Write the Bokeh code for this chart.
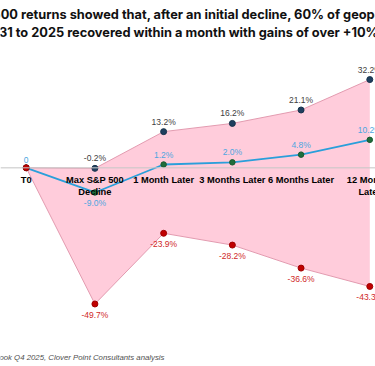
from bokeh.plotting import figure
from bokeh.models import ColumnDataSource, Range1d, Span, Label
from bokeh.core.properties import value
from bokeh.embed import file_html
from bokeh.resources import INLINE

categories = ["T0", "Max S&P 500\nDecline", "1 Month Later", "3 Months Later", "6 Months Later", "12 Months\nLater"]
upper = [0, -0.2, 13.2, 16.2, 21.1, 32.2]
median = [0, -9.0, 1.2, 2.0, 4.8, 10.2]
lower = [0, -49.7, -23.9, -28.2, -36.6, -43.3]
title_lines = [
    "Historical S&P 500 returns showed that, after an initial decline, 60% of geopolitical events from",
    "1931 to 2025 recovered within a month with gains of over +10%.",
]
source_note = "Source: Market Outlook Q4 2025, Clover Point Consultants analysis"

xs = list(range(len(categories)))

W, H = 375, 366
p = figure(width=W, height=H, output_backend="svg", toolbar_location=None,
           x_range=Range1d(-0.374, 5.083), y_range=Range1d(-72.52, 61.06),
           min_border=0, min_border_left=0, min_border_right=0,
           min_border_top=0, min_border_bottom=0)
p.axis.visible = False
p.grid.visible = False
p.outline_line_color = None
p.background_fill_color = "white"

src = ColumnDataSource(dict(x=xs, cat=categories, up=upper, med=median, lo=lower,
                            up_lbl=[""] + [f"{v:.1f}%" for v in upper[1:]],
                            lo_lbl=[""] + [f"{v:.1f}%" for v in lower[1:]],
                            zero=[0] * len(xs)))

# band
p.varea(x="x", y1="lo", y2="up", source=src, fill_color="#FFCCDB", fill_alpha=1.0)
p.line(x="x", y="up", source=src, line_color="#E39BB0", line_width=1)
p.line(x="x", y="lo", source=src, line_color="#E39BB0", line_width=1)

p.add_layout(Span(location=0, dimension="width", line_color="#C8C8C8", line_width=1.5, line_alpha=0.7))

# median line
p.line(x="x", y="med", source=src, line_color="#2A9FDA", line_width=1.8)

p.scatter(x="x", y="up", source=src, size=6, fill_color="#1F3F5F", line_color="#17324C")
p.scatter(x="x", y="med", source=src, size=5.5, fill_color="#1E6E3C", line_color="#185A30")
p.scatter(x="x", y="lo", source=src, size=6, fill_color="#C00000", line_color="#A00000")

lbl_font = value("Liberation Sans")
p.text(x="x", y="up", text="up_lbl", source=src, text_font=lbl_font, text_font_size="8.5px",
       text_color="#404040", text_align="center", text_baseline="bottom", y_offset=-5)
p.text(x="x", y="lo", text="lo_lbl", source=src, text_font=lbl_font, text_font_size="8.5px",
       text_color="#D02828", text_align="center", text_baseline="top", y_offset=6)

med_lbl = ["0"] + [f"{v:.1f}%" for v in median[1:]]
above_idx = [i for i in xs if median[i] >= 0]
below_idx = [i for i in xs if median[i] < 0]
med_above = ColumnDataSource(dict(x=[xs[i] for i in above_idx], y=[median[i] for i in above_idx],
                                  t=[med_lbl[i] for i in above_idx]))
med_below = ColumnDataSource(dict(x=[xs[i] for i in below_idx], y=[median[i] for i in below_idx],
                                  t=[med_lbl[i] for i in below_idx]))
p.text(x="x", y="y", text="t", source=med_above, text_font=lbl_font, text_font_size="8.5px",
       text_color="#4DA6E0", text_align="center", text_baseline="bottom", y_offset=-5)
p.text(x="x", y="y", text="t", source=med_below, text_font=lbl_font, text_font_size="8.5px",
       text_color="#4DA6E0", text_align="center", text_baseline="top", y_offset=6)

# category labels at zero line
p.text(x="x", y="zero", text="cat", source=src, text_font=value("Liberation Sans"), text_font_size="9.3px",
       text_font_style="bold", text_color="#000000", text_align="center", text_baseline="top",
       y_offset=7, text_line_height=1.25)

# title
title_x = [W / 2 + 10, W / 2 - 4]
for i, t in enumerate(title_lines):
    p.add_layout(Label(x=title_x[i], y=H - 6 - 18 * i, x_units="screen", y_units="screen", text=t,
                       text_font="Inter", text_font_size="12.8px", text_font_style="bold",
                       text_color="#111111", text_align="center", text_baseline="top"))

p.add_layout(Label(x=164, y=5, x_units="screen", y_units="screen", text=source_note,
                   text_font="Liberation Sans", text_font_size="7.8px", text_font_style="italic",
                   text_color="#505050", text_align="right", text_baseline="bottom"))

open("out.html", "w").write(file_html(p, INLINE))
